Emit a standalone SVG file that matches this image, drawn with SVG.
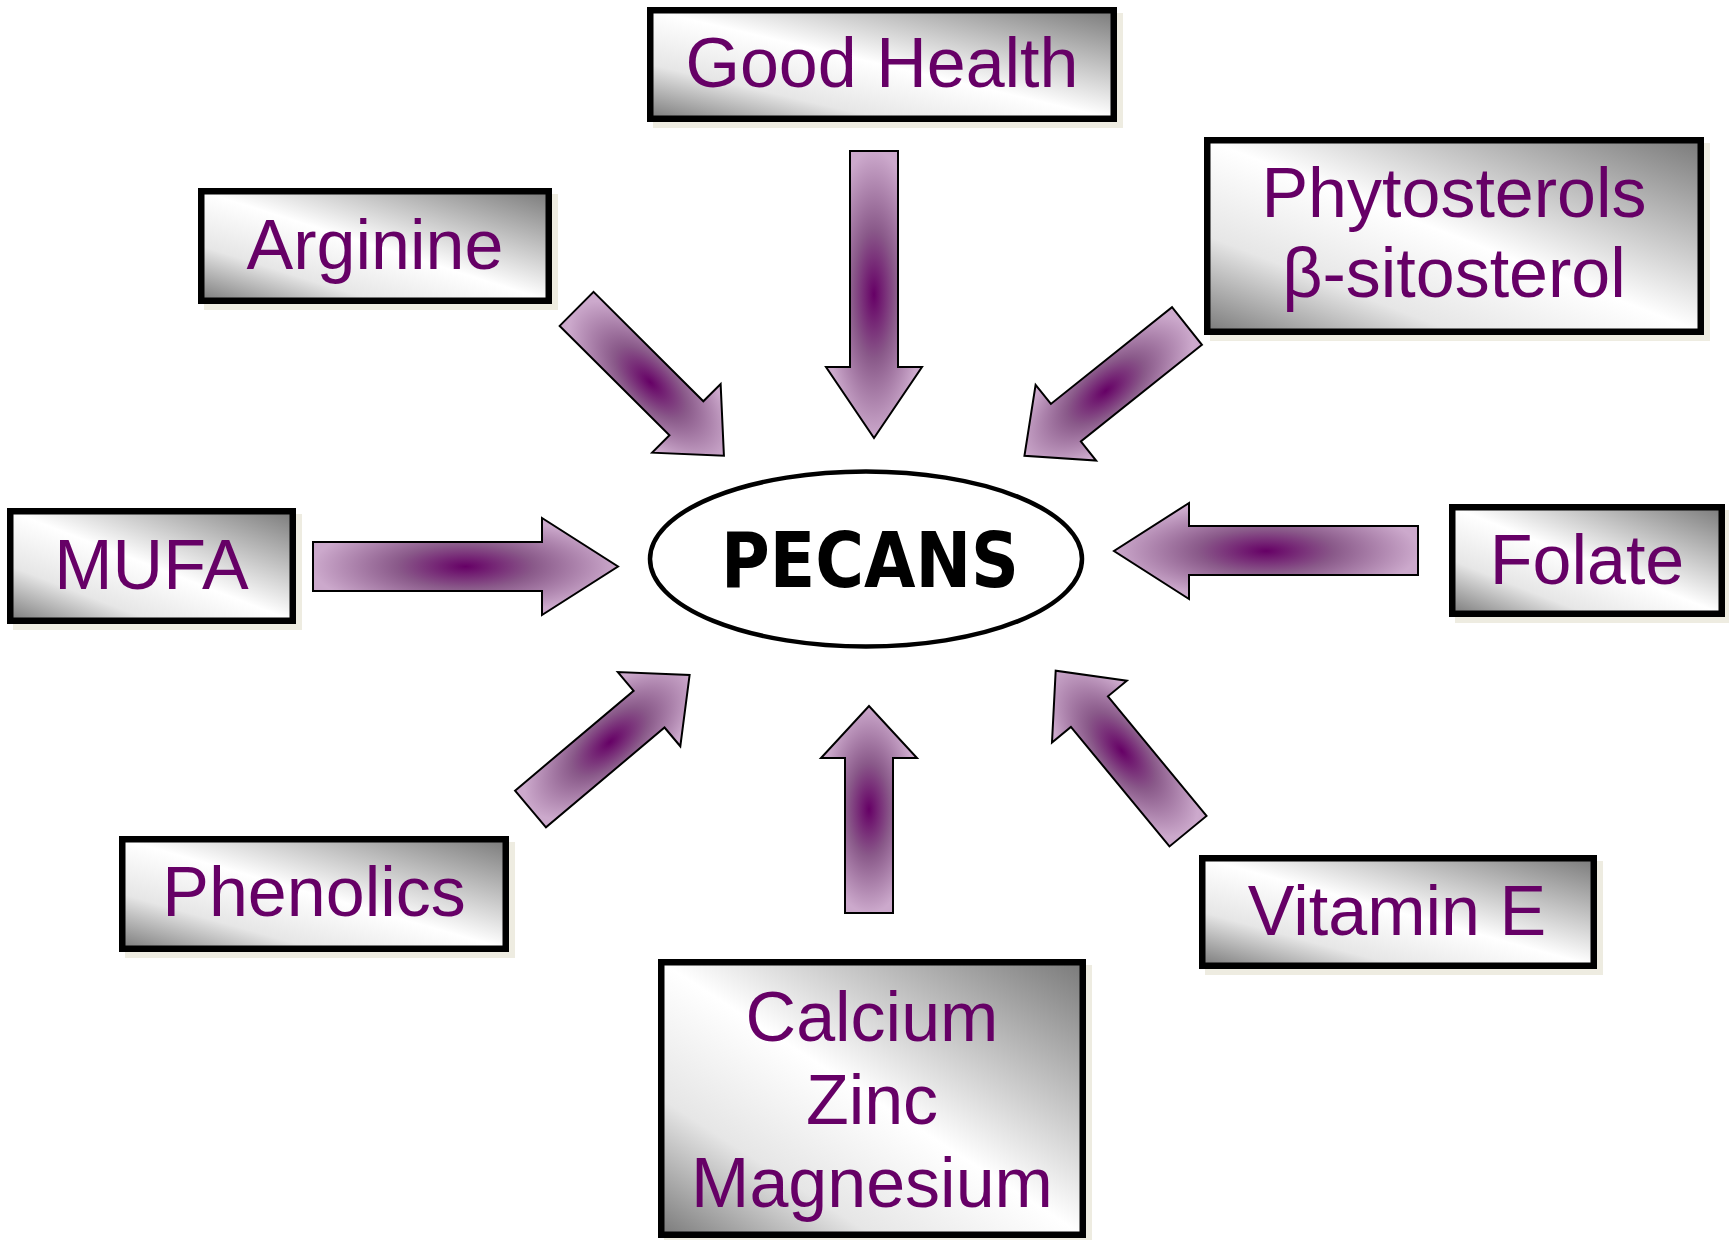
<svg xmlns="http://www.w3.org/2000/svg" width="1729" height="1240" viewBox="0 0 1729 1240">
  <style>
    .box { fill: url(#boxGrad); stroke: #000; stroke-width: 6.5; }
    .shadow { fill: #eeece1; }
    .lbl { font-family: "Liberation Sans", Arial, sans-serif; font-size: 70px; fill: #660066; text-anchor: middle; }
    .arrow { fill: url(#arrowGrad); stroke: #000; stroke-width: 2; stroke-linejoin: miter; }
    .center { fill: #fff; stroke: #000; stroke-width: 4.5; }
    .ctext { font-family: "DejaVu Sans Condensed", "DejaVu Sans", Verdana, sans-serif; font-weight: bold; font-size: 76px; fill: #000; text-anchor: middle; }
  </style>
  <defs>
    <linearGradient id="boxGrad" x1="1" y1="0" x2="0" y2="1">
      <stop offset="0" stop-color="#7a7a7a"/>
      <stop offset="0.5" stop-color="#ffffff"/>
      <stop offset="0.75" stop-color="#e6e6e6"/>
      <stop offset="1" stop-color="#7a7a7a"/>
    </linearGradient>
    <radialGradient id="arrowGrad" cx="0.5" cy="0.5" r="0.5">
      <stop offset="0" stop-color="#660066"/>
      <stop offset="0.45" stop-color="#8a5a8a"/>
      <stop offset="1" stop-color="#cca9cc"/>
    </radialGradient>
    <path id="diag" d="M0,-24 L155,-24 L155,-48.5 L208,0 L155,48.5 L155,24 L0,24 Z"/>
  </defs>

  <rect width="1729" height="1240" fill="#fff"/>

  <g id="connectors">
    <path class="arrow" d="M850,151 L898,151 L898,367 L922,367 L874,438 L826,367 L850,367 Z"/>
    <path class="arrow" d="M845,913 L845,758 L821,758 L869,706 L917,758 L893,758 L893,913 Z"/>
    <path class="arrow" d="M313,542 L542,542 L542,518 L618,566.5 L542,615 L542,591 L313,591 Z"/>
    <path class="arrow" d="M1418,526 L1189,526 L1189,503 L1114,551 L1189,599 L1189,575 L1418,575 Z"/>
    <use href="#diag" class="arrow" transform="translate(576.6,308.9) rotate(44.9)"/>
    <use href="#diag" class="arrow" transform="translate(1187,326) rotate(141.4)"/>
    <use href="#diag" class="arrow" transform="translate(530.5,809) rotate(-40.1)"/>
    <use href="#diag" class="arrow" transform="translate(1188,831.2) rotate(-129.5)"/>
  </g>

  <g id="pecans">
    <ellipse class="center" cx="866" cy="559" rx="216" ry="87.5"/>
    <text class="ctext" x="870" y="587" textLength="298" lengthAdjust="spacingAndGlyphs">PECANS</text>
  </g>

  <g id="good-health">
    <rect class="shadow" x="653" y="13" width="470" height="115"/>
    <rect class="box" x="650.25" y="10.25" width="463.5" height="108.5"/>
    <text class="lbl" x="882" y="87">Good Health</text>
  </g>

  <g id="arginine">
    <rect class="shadow" x="204" y="194" width="354" height="116"/>
    <rect class="box" x="201.25" y="191.25" width="347.5" height="109.5"/>
    <text class="lbl" x="375" y="269">Arginine</text>
  </g>

  <g id="phytosterols">
    <rect class="shadow" x="1210" y="143" width="500" height="198"/>
    <rect class="box" x="1207.25" y="140.25" width="493.5" height="191.5"/>
    <text class="lbl" x="1454" y="217">Phytosterols</text>
    <text class="lbl" x="1454" y="297">β-sitosterol</text>
  </g>

  <g id="mufa">
    <rect class="shadow" x="13" y="514" width="289" height="116"/>
    <rect class="box" x="10.25" y="511.25" width="282.5" height="109.5"/>
    <text class="lbl" x="151.5" y="589">MUFA</text>
  </g>

  <g id="folate">
    <rect class="shadow" x="1455" y="510" width="276" height="113"/>
    <rect class="box" x="1452.25" y="507.25" width="269.5" height="106.5"/>
    <text class="lbl" x="1587" y="584">Folate</text>
  </g>

  <g id="phenolics">
    <rect class="shadow" x="125" y="842" width="390" height="116"/>
    <rect class="box" x="122.25" y="839.25" width="383.5" height="109.5"/>
    <text class="lbl" x="314" y="916">Phenolics</text>
  </g>

  <g id="vitamin-e">
    <rect class="shadow" x="1205" y="861" width="398" height="114"/>
    <rect class="box" x="1202.25" y="858.25" width="391.5" height="107.5"/>
    <text class="lbl" x="1397" y="935">Vitamin E</text>
  </g>

  <g id="minerals">
    <rect class="shadow" x="664" y="965" width="428" height="279"/>
    <rect class="box" x="661.25" y="962.25" width="421.5" height="272.5"/>
    <text class="lbl" x="872" y="1041">Calcium</text>
    <text class="lbl" x="872" y="1124">Zinc</text>
    <text class="lbl" x="872" y="1207">Magnesium</text>
  </g>
</svg>
